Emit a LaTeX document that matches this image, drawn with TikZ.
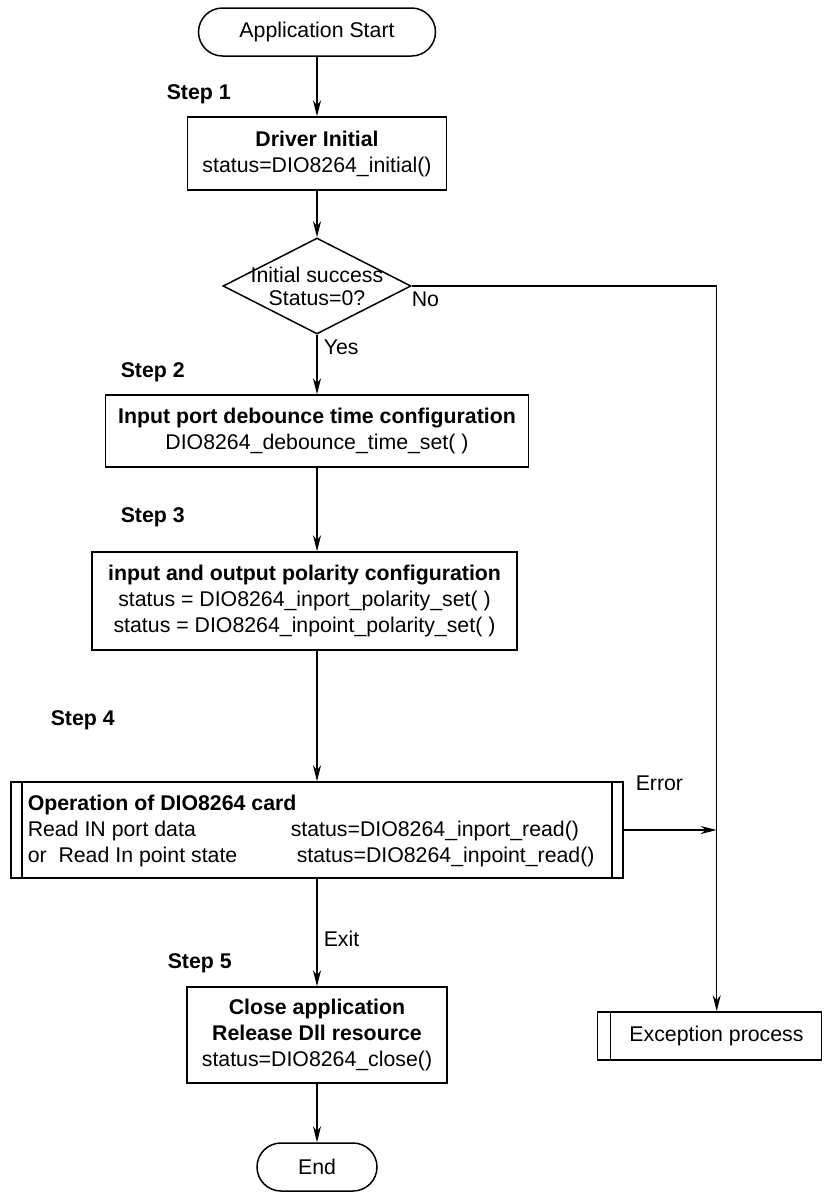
\documentclass[tikz,border=0pt]{standalone}
\usepackage{fontspec}
\setmainfont{Liberation Sans}
\usetikzlibrary{arrows.meta,shapes.geometric,calc}

\begin{document}
\begin{tikzpicture}[x=1pt,y=-1pt,
  font=\fontsize{21.3}{26}\selectfont,
  line width=1.5pt,
  flow/.style={-{Stealth[length=16pt,width=8pt,inset=5pt]}},
  box/.style={draw, rectangle, align=center, inner sep=0pt},
  term/.style={draw, rectangle, rounded corners=24pt, minimum height=48pt, inner sep=0pt},
  steplabel/.style={anchor=west, inner sep=0pt, font=\fontsize{21.3}{26}\selectfont\bfseries},
  tag/.style={anchor=west, inner sep=0pt},
  barleft/.style={draw, rectangle, inner sep=0pt, path picture={
    \draw ([xshift=#1]path picture bounding box.north west) --
          ([xshift=#1]path picture bounding box.south west);}},
  barboth/.style={draw, rectangle, inner sep=0pt, path picture={
    \draw ([xshift=#1]path picture bounding box.north west) --
          ([xshift=#1]path picture bounding box.south west);
    \draw ([xshift=-#1]path picture bounding box.north east) --
          ([xshift=-#1]path picture bounding box.south east);}}
]
\useasboundingbox (0,0) rectangle (823,1192);

% start and driver initialisation
\node[term, minimum width=237pt] (start) at (317,32) {Application Start};
\node[steplabel] (s1) at (166,94) {Step 1};
\node[box, minimum width=259pt, minimum height=73pt] (init) at (317,153.5)
  {\textbf{Driver Initial}\\status=DIO8264\_initial()};

% decision
\node[draw, diamond, minimum width=188pt, minimum height=96pt, inner sep=0pt] (chk) at (317,286) {};
\node[align=center, inner sep=0pt, font=\fontsize{21.3}{23}\selectfont] (chktext) at (317,286.5)
  {Initial success\\Status=0?};
\node[tag] (no) at (411,299) {No};
\node[tag] (yes) at (323,347) {Yes};

% step 2
\node[steplabel] (s2) at (120,372) {Step 2};
\node[box, minimum width=423pt, minimum height=72pt] (dbc) at (317,431)
  {\textbf{Input port debounce time configuration}\\DIO8264\_debounce\_time\_set( )};

% step 3
\node[steplabel] (s3) at (120,517) {Step 3};
\node[box, minimum width=425pt, minimum height=98pt] (pol) at (304.5,601)
  {\textbf{input and output polarity configuration}\\
   status = DIO8264\_inport\_polarity\_set( )\\
   status = DIO8264\_inpoint\_polarity\_set( )};

% step 4
\node[steplabel] (s4) at (50,720) {Step 4};
\node[barboth=11pt, minimum width=612pt, minimum height=96pt] (op) at (317,830) {};
\node[tag, font=\fontsize{21.3}{26}\selectfont\bfseries] (optitle) at (27,805) {Operation of DIO8264 card};
\node[tag] (opl1) at (27,831) {Read IN port data};
\node[tag] (opl2) at (27,857) {or\ \ Read In point state};
\node[tag] (opr1) at (290,831) {status=DIO8264\_inport\_read()};
\node[tag] (opr2) at (296,857) {status=DIO8264\_inpoint\_read()};
\node[tag] (err) at (635,783) {Error};
\coordinate (join) at (716.7,830);

% exception handling
\node[barleft=13pt, minimum width=224pt, minimum height=48pt] (exc) at (709.5,1036) {};
\node[inner sep=0pt] (exctext) at (716.5,1036) {Exception process};

% step 5 and end
\node[tag] (exit) at (323,939) {Exit};
\node[steplabel] (s5) at (167,963) {Step 5};
\node[box, minimum width=260pt, minimum height=96pt] (close) at (317,1035)
  {\textbf{Close application}\\\textbf{Release Dll resource}\\status=DIO8264\_close()};
\node[term, minimum width=120pt] (end) at (317,1167) {End};

% connectors
\draw[flow] (start) -- (init);
\draw[flow] (init) -- (chk);
\draw[flow] (chk.south) -- (dbc.north);
\draw[flow] (dbc.south) -- (dbc.south |- pol.north);
\draw[flow] (dbc.south |- pol.south) -- (op.north);
\draw[flow] (op.south) -- (close.north);
\draw[flow] (close) -- (end);
\draw[flow] (chk.east) -| (exc.north -| join);
\draw[flow] (op.east) -- (join);
\end{tikzpicture}
\end{document}
